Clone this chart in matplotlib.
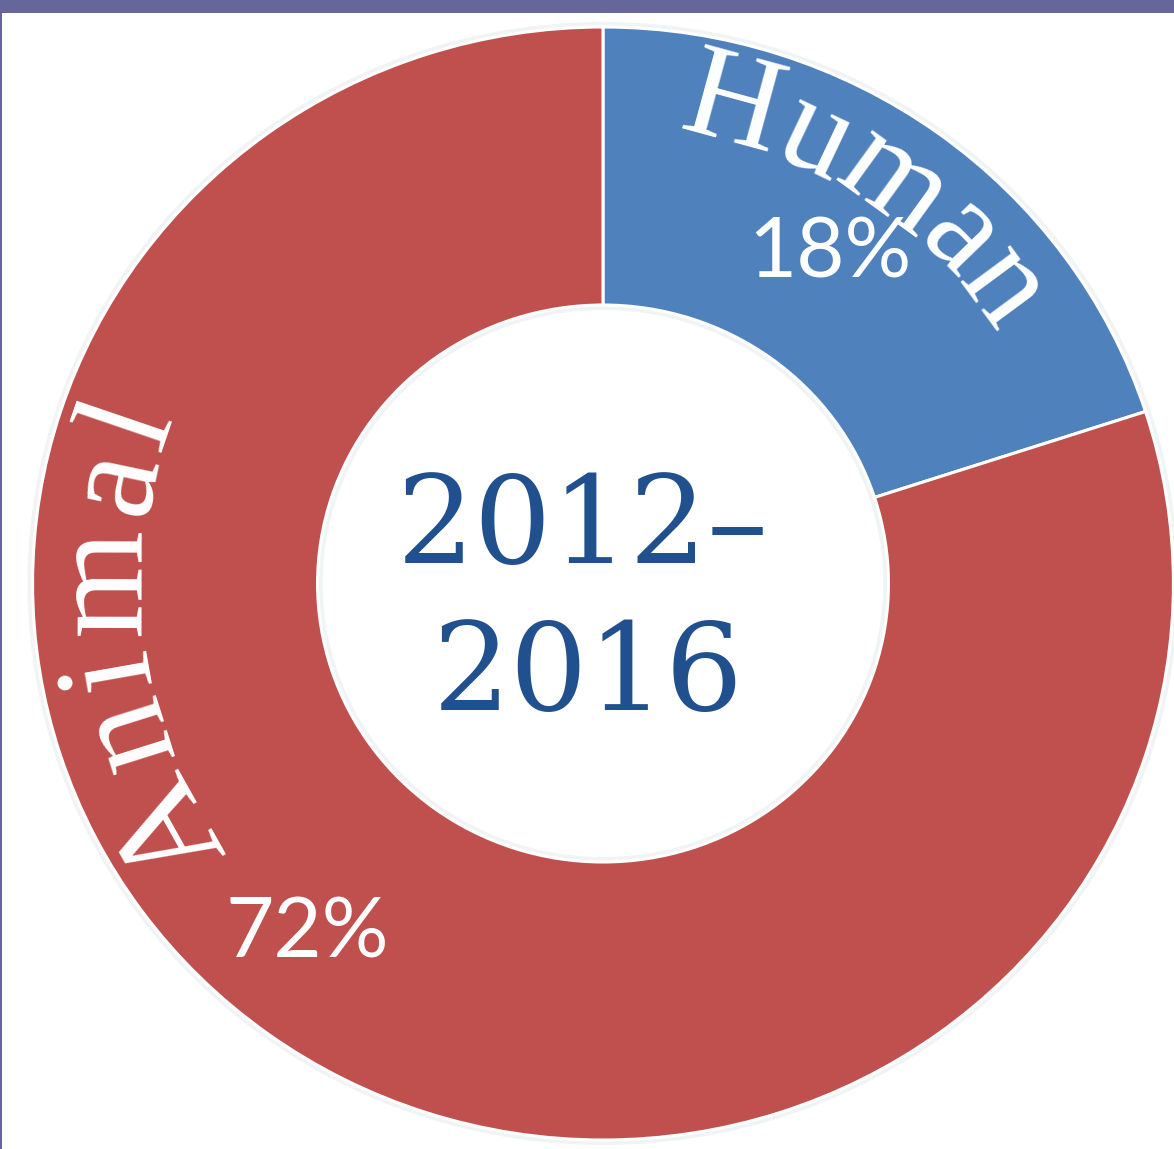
import numpy as np
import matplotlib
matplotlib.use("Agg")
import matplotlib.pyplot as plt
from matplotlib.patches import Rectangle
from matplotlib.font_manager import FontProperties, findfont, get_font

# ---- data ----
categories = ["Human", "Animal"]
values = [18, 72]
pct_labels = ["18%", "72%"]
center_lines = ["2012–", "2016"]
colors = ["#4f81bd", "#c0504d"]

W, H = 1174, 1149
S = 1.025  # slight horizontal stretch of the original picture

fig = plt.figure(figsize=(W / 100, H / 100), dpi=100)
fig.patch.set_facecolor("white")
ax = fig.add_axes([0, 0, 1, 1])

cx_px, cy_px = 603.0, H - 583.5
R, r_in = 556.5, 278.5
cx, cy = cx_px / S, cy_px

# soft glow behind ring
ax.pie([1], radius=R + 5, center=(cx, cy), colors=["#f1f4f4"],
       wedgeprops=dict(width=R - r_in + 10, linewidth=0))
ax.pie(values, startangle=90, counterclock=False, colors=colors,
       radius=R, center=(cx, cy),
       wedgeprops=dict(width=R - r_in, edgecolor="white", linewidth=2.2))
ax.set_aspect("auto")
ax.set_xlim(0, W / S)
ax.set_ylim(0, H)
ax.axis("off")


def advances(word, family, size):
    try:
        fp = FontProperties(family=family, size=size)
        font = get_font(findfont(fp))
        font.set_size(size, 72)
        return np.array([font.load_char(ord(c)).horiAdvance / 64.0 for c in word])
    except Exception:
        return np.ones(len(word))


def arc_text(word, th_start, th_end, r_base, size, family="Liberation Serif"):
    adv = advances(word, family, size)
    frac = (np.cumsum(adv) - adv / 2) / adv.sum()
    thetas = th_start + (th_end - th_start) * frac
    for ch, th in zip(word, thetas):
        t = np.deg2rad(th)
        x = cx + r_base * np.cos(t)
        y = cy + r_base * np.sin(t)
        phi = np.degrees(np.arctan2(np.sin(t), S * np.cos(t)))
        ax.text(x, y, ch, fontsize=size, family=family, color="white",
                ha="center", va="baseline", rotation=phi - 90,
                rotation_mode="anchor")


arc_text(categories[0], 81, 33, 458, 96)
arc_text(categories[1], 217, 158, 452, 100)

# percentage labels
ax.text(830 / S, H - 277, pct_labels[0], fontsize=60, family="Lato",
        color="white", ha="center", va="baseline")
ax.text(307 / S, H - 957, pct_labels[1], fontsize=60, family="Lato",
        color="white", ha="center", va="baseline")

# center text
ax.text(583 / S, H - 563, center_lines[0], fontsize=88,
        family="DejaVu Serif", color="#21508e", ha="center", va="baseline")
ax.text(588 / S, H - 710, center_lines[1], fontsize=88,
        family="DejaVu Serif", color="#21508e", ha="center", va="baseline")

# frame borders
fig.patches.append(Rectangle((0, 1 - 13 / H), 1, 13 / H, transform=fig.transFigure,
                             facecolor="#66669a", edgecolor="none", zorder=10))
fig.patches.append(Rectangle((0, 0), 2 / W, 1, transform=fig.transFigure,
                             facecolor="#66669a", edgecolor="none", zorder=10))

fig.savefig("out.png", dpi=100)
